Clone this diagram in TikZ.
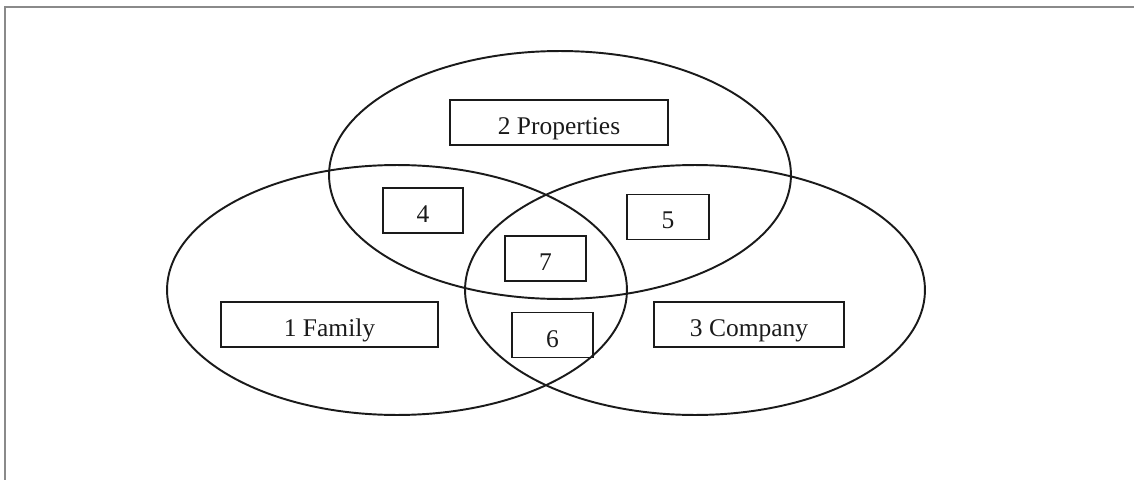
\documentclass[tikz,border=0pt]{standalone}
\usepackage{fontspec}
\setmainfont{Liberation Serif}
\usepackage{xcolor}
\usetikzlibrary{calc}
\definecolor{ink}{HTML}{1A1A1A}
\definecolor{rule}{HTML}{8A8A8A}
\tikzset{
  ring/.style={draw=ink, line width=1.1pt},
  frameline/.style={draw=rule, line width=1pt},
  box/.style={draw=ink, line width=0.9pt, rectangle, inner sep=0pt,
    minimum height=0.9cm, text height=0.5cm, text depth=0.02cm,
    font=\fontsize{14.5}{16}\selectfont, text=ink}
}

\begin{document}
\begin{tikzpicture}[x=0.02cm, y=-0.02cm]
  \useasboundingbox (0,0) rectangle (1134,480);
  \coordinate (TL) at (5,7);
  \coordinate (TR) at (1134,7);
  \coordinate (BL) at (5,480);
  \draw[frameline] (BL) -- (TL) -- (TR);

  \coordinate (P) at (560,175);
  \coordinate (F) at (397,290);
  \coordinate (C) at (695,290);
  \draw[ring] (P) ellipse [x radius=4.62cm, y radius=2.48cm];
  \draw[ring] (F) ellipse [x radius=4.6cm, y radius=2.5cm];
  \draw[ring] (C) ellipse [x radius=4.6cm, y radius=2.5cm];

  \node[box, minimum width=4.36cm] (prop) at (559,122.5) {2 Properties};
  \node[box, minimum width=4.34cm] (fam) at (329.5,324.5) {1 Family};
  \node[box, minimum width=3.8cm] (comp) at (749,324.5) {3 Company};
  \node[box, minimum width=1.6cm] (b4) at (423,210.5) {4};
  \node[box, minimum width=1.64cm] (b5) at (668,217) {5};
  \node[box, minimum width=1.62cm] (b7) at (545.5,258.5) {7};
  \node[box, minimum width=1.62cm] (b6) at (552.5,335) {6};
\end{tikzpicture}
\end{document}
